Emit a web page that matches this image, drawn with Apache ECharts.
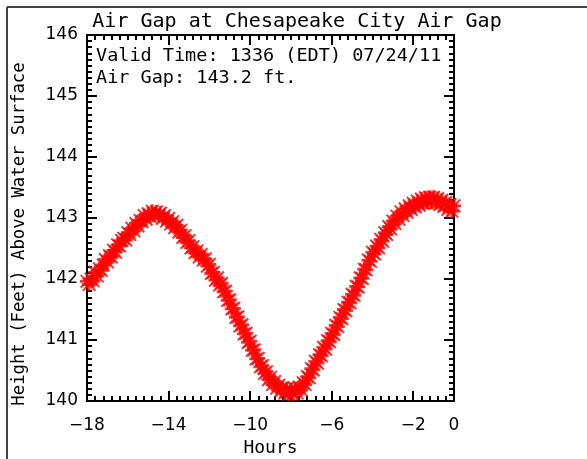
<!DOCTYPE html>
<html>
<head>
<meta charset="utf-8">
<script src="https://cdn.jsdelivr.net/npm/echarts@6/dist/echarts.min.js"></script>
<style>
  html, body { margin: 0; padding: 0; background: #fff; }
  #chart { width: 587px; height: 459px; }
</style>
</head>
<body>
<div id="chart"></div>
<script>
// hours before valid time, one reading every 6 minutes
const hours = [];
for (let i = 0; i <= 180; i++) hours.push(+(-18 + i * 0.1).toFixed(1));

// air gap height (ft), noisy readings
const airGap = [
  141.96, 141.91, 142.00, 141.97, 142.11, 142.05, 142.17, 142.14, 142.23, 142.32,
  142.28, 142.38, 142.36, 142.47, 142.44, 142.56, 142.54, 142.63, 142.67, 142.64,
  142.76, 142.73, 142.83, 142.79, 142.91, 142.87, 142.96, 142.94, 143.04, 142.98,
  143.07, 143.02, 143.11, 143.05, 143.10, 143.04, 143.08, 142.99, 143.04, 142.95,
  142.99, 142.90, 142.94, 142.84, 142.88, 142.77, 142.80, 142.68, 142.71, 142.60,
  142.63, 142.51, 142.53, 142.43, 142.46, 142.36, 142.40, 142.31, 142.33, 142.21,
  142.24, 142.09, 142.11, 141.98, 142.02, 141.90, 141.93, 141.79, 141.80, 141.65,
  141.66, 141.51, 141.52, 141.37, 141.38, 141.23, 141.25, 141.10, 141.11, 140.96,
  140.98, 140.83, 140.84, 140.69, 140.70, 140.56, 140.58, 140.45, 140.48, 140.35,
  140.39, 140.27, 140.32, 140.21, 140.26, 140.16, 140.22, 140.13, 140.20, 140.11,
  140.19, 140.12, 140.20, 140.13, 140.23, 140.18, 140.30, 140.27, 140.40, 140.38,
  140.53, 140.51, 140.65, 140.62, 140.76, 140.74, 140.88, 140.85, 140.99, 140.97,
  141.11, 141.09, 141.24, 141.22, 141.37, 141.35, 141.50, 141.48, 141.62, 141.61,
  141.75, 141.73, 141.88, 141.87, 142.02, 142.01, 142.16, 142.15, 142.31, 142.29,
  142.44, 142.41, 142.54, 142.51, 142.65, 142.62, 142.76, 142.73, 142.86, 142.82,
  142.95, 142.91, 143.03, 142.98, 143.10, 143.04, 143.15, 143.09, 143.20, 143.14,
  143.24, 143.18, 143.28, 143.21, 143.31, 143.24, 143.33, 143.26, 143.34, 143.26,
  143.34, 143.25, 143.32, 143.22, 143.29, 143.19, 143.26, 143.14, 143.22, 143.11,
  143.20
];

const titleText = "Air Gap at Chesapeake City Air Gap";
const infoLines = ["Valid Time: 1336 (EDT) 07/24/11", "Air Gap: 143.2 ft."];
const yName = "Height (Feet) Above Water Surface";

const font = "DejaVu Sans";
const mono = "DejaVu Sans Mono";
const asterisk = "path://M4,0h2v10h-2z M0,4h10v2h-10z M0,1L1,0L10,9L9,10z M9,0L10,1L1,10L0,9z";

const chart = echarts.init(document.getElementById("chart"));

const axisBase = {
  axisLine: { onZero: false, lineStyle: { color: "#000", width: 2 } },
  axisTick: { inside: true, length: 10, lineStyle: { color: "#000", width: 2 } },
  minorTick: { show: true, splitNumber: 10, length: 5, lineStyle: { color: "#000", width: 2 } },
  splitLine: { show: false }
};

chart.setOption({
  animation: false,
  backgroundColor: "#fff",
  title: {
    text: titleText,
    left: 292,
    textAlign: "center",
    top: 7,
    textStyle: { fontFamily: mono, fontSize: 20, fontWeight: "normal", color: "#000" }
  },
  grid: { left: 87, right: 133, top: 35, bottom: 58, outerBoundsMode: "none" },
  xAxis: [
    Object.assign({}, axisBase, {
      type: "value", min: -18, max: 0, interval: 4,
      axisLabel: { margin: 16, color: "#000", fontFamily: font, fontSize: 17,
        formatter: v => (v < 0 ? "\u2212" + Math.abs(v) : String(v)) },
      name: "Hours", nameLocation: "middle", nameGap: 38,
      nameTextStyle: { fontFamily: mono, fontSize: 18, color: "#000" }
    }),
    Object.assign({}, axisBase, {
      type: "value", min: -18, max: 0, interval: 4, position: "top",
      axisLabel: { show: false }
    })
  ],
  yAxis: [
    Object.assign({}, axisBase, {
      type: "value", min: 140, max: 146, interval: 1,
      axisLabel: { margin: 9, color: "#000", fontFamily: font, fontSize: 17 }
    }),
    Object.assign({}, axisBase, {
      type: "value", min: 140, max: 146, interval: 1, position: "right",
      axisLabel: { show: false }
    })
  ],
  graphic: [
    { type: "line", shape: { x1: 7, y1: 7, x2: 587, y2: 7 }, style: { stroke: "#444", lineWidth: 2 } },
    { type: "line", shape: { x1: 7, y1: 7, x2: 7, y2: 459 }, style: { stroke: "#444", lineWidth: 2 } },
    { type: "text", left: 96, top: 47, style: { text: infoLines[0], font: "18.5px " + mono, fill: "#000" } },
    { type: "text", left: 96, top: 69, style: { text: infoLines[1], font: "18.5px " + mono, fill: "#000" } },
    { type: "text", x: 20, y: 234, rotation: Math.PI / 2,
      style: { text: yName, font: "17.3px " + mono, fill: "#000", align: "center", verticalAlign: "middle" } }
  ],
  series: [{
    type: "scatter",
    data: hours.map((h, i) => [h, airGap[i]]),
    symbol: asterisk,
    symbolSize: 14,
    itemStyle: { color: "#ff0000" },
    clip: true
  }]
});
</script>
</body>
</html>
